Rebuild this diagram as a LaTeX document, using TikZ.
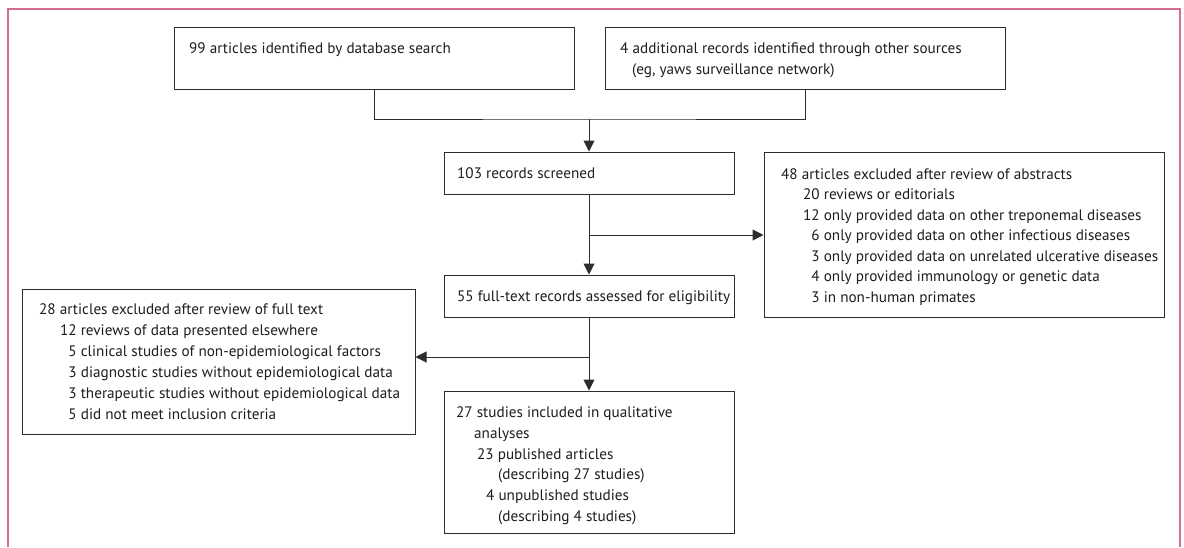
\documentclass[tikz,border=0pt]{standalone}
\usepackage{fontspec}
\setmainfont{PT Sans}
\usetikzlibrary{arrows.meta}
\definecolor{framepink}{RGB}{210,112,140}
\definecolor{boxgray}{RGB}{45,45,45}
\definecolor{txtgray}{RGB}{30,30,30}
\begin{document}
\begin{tikzpicture}[x=1pt,y=-1pt,
  box/.style={draw=boxgray,line width=1pt,inner sep=0pt,fill=white},
  txt/.style={anchor=base west,inner sep=0pt,text=txtgray,font=\fontsize{15.2}{18}\selectfont},
  conn/.style={draw=boxgray,line width=1pt},
  arr/.style={conn,-{Triangle[length=11pt,width=11pt]}}]
\useasboundingbox (0,0) rectangle (1184,547);
% outer frame (open at the bottom)
\draw[framepink,line width=1.3pt] (8,547) -- (8,9) -- (1180,9) -- (1180,547);
% boxes
\node[box,minimum width=400pt,minimum height=62pt] (A) at (374,58) {};
\node[box,minimum width=400pt,minimum height=62pt] (B) at (805,58) {};
\node[box,minimum width=290pt,minimum height=42pt] (C) at (589,173) {};
\node[box,minimum width=400pt,minimum height=165pt] (E) at (964,234.5) {};
\node[box,minimum width=290pt,minimum height=42pt] (D) at (589,296) {};
\node[box,minimum width=393pt,minimum height=145pt] (G) at (218.5,361.5) {};
\node[box,minimum width=290pt,minimum height=142pt] (F) at (589,462) {};
% connectors
\coordinate (j) at (589,119);
\draw[conn] (A.south) |- (j) -| (B.south);
\draw[arr] (j) -- (C.north);
\draw[arr] (C.south) -- (D.north);
\coordinate (k) at (589,235);
\draw[arr] (k) -- (k -| E.west);
\draw[arr] (D.south) -- (F.north);
\coordinate (m) at (589,357);
\draw[arr] (m) -- (m -| G.east);
% texts
\node[txt] (a1) at (189,53) {99 articles identified by database search};
\node[txt] (b1) at (620,53) {4 additional records identified through other sources};
\node[txt] (b2) at (632,74) {(eg, yaws surveillance network)};
\node[txt] (c1) at (457,178) {103 records screened};
\node[txt] (d1) at (457,301) {55 full-text records assessed for eligibility};
\node[txt] (e1) at (781,179) {48 articles excluded after review of abstracts};
\node[txt] (e2) at (803,199.5) {20 reviews or editorials};
\node[txt] (e3) at (803,220) {12 only provided data on other treponemal diseases};
\node[txt] (e4) at (803,240.5) {\phantom{0}6 only provided data on other infectious diseases};
\node[txt] (e5) at (803,261) {\phantom{0}3 only provided data on unrelated ulcerative diseases};
\node[txt] (e6) at (803,281.5) {\phantom{0}4 only provided immunology or genetic data};
\node[txt] (e7) at (803,302) {\phantom{0}3 in non-human primates};
\node[txt] (g1) at (39,314) {28 articles excluded after review of full text};
\node[txt] (g2) at (60,335) {12 reviews of data presented elsewhere};
\node[txt] (g3) at (60,356) {\phantom{0}5 clinical studies of non-epidemiological factors};
\node[txt] (g4) at (60,377) {\phantom{0}3 diagnostic studies without epidemiological data};
\node[txt] (g5) at (60,398) {\phantom{0}3 therapeutic studies without epidemiological data};
\node[txt] (g6) at (60,419) {\phantom{0}5 did not meet inclusion criteria};
\node[txt] (f1) at (456,417) {27 studies included in qualitative};
\node[txt] (f2) at (474,438) {analyses};
\node[txt] (f3) at (477,459) {23 published articles};
\node[txt] (f4) at (498,479) {(describing 27 studies)};
\node[txt] (f5) at (486,500) {4 unpublished studies};
\node[txt] (f6) at (498,521) {(describing 4 studies)};
\end{tikzpicture}
\end{document}
